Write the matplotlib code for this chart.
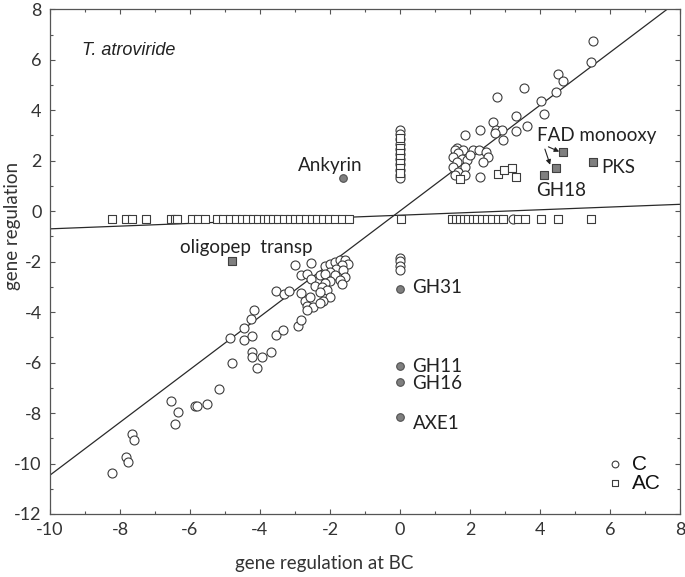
import matplotlib
matplotlib.use("Agg")
import matplotlib.pyplot as plt
from matplotlib.ticker import MultipleLocator

plt.rcParams["axes.unicode_minus"] = False

# ---------------- data ----------------
# C (circles)
c_x = [-8.22, -7.83, -7.78, -7.65, -7.59, -6.54, -6.34, -6.44, -5.86, -5.79, -5.52, -5.17,
       -4.17, -4.27, -4.46, -4.86, -4.46, -4.22, -4.81, -4.22, -4.22, -3.93, -3.69, -4.08,
       -3.54, -3.35, -2.92, -2.82, -3.54, -3.31, -3.16,
       -3.00, -2.53, -2.83, -2.65, -2.55, -2.29, -2.14, -2.00, -1.86, -1.71, -1.57, -1.48,
       -1.67, -1.83, -1.62, -2.00, -2.14, -1.86, -1.57, -1.71, -2.00, -1.67, -2.14, -2.43,
       -2.24, -2.10, -2.29, -2.00, -2.19, -2.83, -2.71, -2.57, -2.67, -2.48, -2.65, -2.29,
       0.0, 0.0, 0.0, 0.0,
       0.0, 0.0, 0.0, 0.0, 0.0, 0.0, 0.0, 0.0, 0.0, 0.0, 0.0,
       5.50, 5.46, 4.50, 4.65, 4.45, 4.02, 3.54, 2.76, 4.12, 3.31, 2.67, 3.64, 3.30, 2.74,
       2.90, 2.71, 2.95, 2.29, 1.86,
       1.62, 1.57, 1.81, 1.67, 1.52, 1.76, 1.62, 1.90, 2.09, 2.27, 2.45, 2.52, 2.38, 2.00,
       1.86, 1.52, 1.67, 1.57, 1.86, 2.29,
       3.22]
c_y = [-10.36, -9.75, -9.95, -8.84, -9.05, -7.53, -7.94, -8.43, -7.73, -7.73, -7.66, -7.04,
       -3.93, -4.26, -4.62, -5.03, -5.12, -4.95, -6.01, -5.59, -5.79, -5.79, -5.59, -6.21,
       -4.90, -4.69, -4.54, -4.33, -3.17, -3.30, -3.17,
       -2.12, -2.05, -2.54, -2.50, -2.70, -2.54, -2.19, -2.09, -2.02, -1.93, -1.95, -2.09,
       -2.15, -2.28, -2.35, -2.41, -2.48, -2.54, -2.61, -2.72, -2.77, -2.88, -2.85, -2.98,
       -3.00, -3.11, -3.20, -3.41, -3.54, -3.24, -3.54, -3.41, -3.74, -3.80, -3.93, -3.64,
       -1.86, -1.99, -2.19, -2.32,
       3.20, 3.05, 2.85, 2.65, 2.45, 2.25, 2.05, 1.85, 1.65, 1.45, 1.30,
       6.75, 5.91, 5.43, 5.15, 4.72, 4.38, 4.88, 4.53, 3.85, 3.76, 3.55, 3.36, 3.16, 3.21,
       3.21, 3.09, 2.81, 3.22, 3.01,
       2.52, 2.42, 2.44, 2.29, 2.15, 2.08, 1.95, 2.02, 2.44, 2.42, 2.35, 2.15, 1.95, 2.22,
       1.75, 1.75, 1.55, 1.42, 1.42, 1.36,
       -0.30]

# AC (squares)
ac_x = [-8.24, -7.83, -7.67, -7.26, -6.55, -6.43, -6.36, -5.95, -5.78, -5.57, -5.22, -5.05,
        -4.86, -4.69, -4.52, -4.36, -4.21, -4.05, -3.90, -3.76, -3.62, -3.48, -3.31, -3.14,
        -3.00, -2.86, -2.69, -2.52, -2.36, -2.19, -2.02, -1.86, -1.67, -1.47,
        0.03,
        1.48, 1.60, 1.71, 1.83, 1.95, 2.08, 2.19, 2.33, 2.48, 2.62, 2.79, 2.93, 3.38, 3.58,
        4.03, 4.51, 5.47,
        2.81, 2.96, 3.20, 3.30, 1.70,
        0.0, 0.0, 0.0, 0.0, 0.0, 0.0, 0.0]
ac_y = [-0.30] * 34 + [-0.30] + [-0.30] * 17 + \
       [1.49, 1.62, 1.71, 1.36, 1.29] + \
       [2.90, 2.50, 2.30, 2.10, 1.90, 1.70, 1.50]

# highlighted genes
hl_c_names = ["Ankyrin", "GH31", "GH11", "GH16", "AXE1"]
hl_c_x = [-1.62, 0.0, 0.0, 0.0, 0.0]
hl_c_y = [1.33, -3.07, -6.14, -6.75, -8.14]
hl_s_names = ["oligopep  transp", "FAD monooxy", "FAD monooxy", "GH18", "PKS"]
hl_s_x = [-4.80, 4.65, 4.46, 4.11, 5.50]
hl_s_y = [-1.99, 2.33, 1.70, 1.44, 1.93]

# regression lines (slope, intercept)
line_c = (1.047, 0.01)
line_ac = (0.054, -0.16)

# ---------------- plot ----------------
fig = plt.figure(figsize=(6.85, 5.77), dpi=100)
ax = fig.add_axes([50 / 685, 1 - 514 / 577, 630 / 685, (514 - 9.3) / 577])

FONT = ["Lato", "DejaVu Sans"]
gray_edge = "#3c3c3c"

ax.scatter(c_x, c_y, s=42, marker="o", facecolors="white", edgecolors=gray_edge,
           linewidths=0.8, zorder=3, label="C")
ax.scatter(ac_x, ac_y, s=36, marker="s", facecolors="white", edgecolors=gray_edge,
           linewidths=0.8, zorder=3, label="AC")
ax.scatter(hl_c_x, hl_c_y, s=30, marker="o", facecolors="#7f7f7f", edgecolors="#505050",
           linewidths=0.8, zorder=4)
ax.scatter(hl_s_x, hl_s_y, s=30, marker="s", facecolors="#7f7f7f", edgecolors="#404040",
           linewidths=0.8, zorder=4)

ax.axline((0, line_c[1]), slope=line_c[0], color="#2a2a2a", lw=0.9, zorder=2)
ax.axline((0, line_ac[1]), slope=line_ac[0], color="#2a2a2a", lw=0.9, zorder=2)

ax.set_xlim(-10, 8)
ax.set_ylim(-12, 8)
ax.xaxis.set_major_locator(MultipleLocator(2))
ax.xaxis.set_minor_locator(MultipleLocator(1))
ax.yaxis.set_major_locator(MultipleLocator(2))
ax.yaxis.set_minor_locator(MultipleLocator(1))
ax.tick_params(which="both", direction="in", top=True, right=True, colors="#555555",
               labelcolor="#333333")
ax.tick_params(which="major", length=3.5, width=0.8, labelsize=13, pad=6)
ax.tick_params(which="minor", length=2.5, width=0.8)
for lab in ax.get_xticklabels() + ax.get_yticklabels():
    lab.set_fontfamily(FONT)
for sp in ax.spines.values():
    sp.set_color("#555555")
    sp.set_linewidth(0.9)

ax.set_xlabel("gene regulation at BC", fontsize=13.5, family=FONT, color="#333333")
ax.xaxis.set_label_coords(0.435, -0.082)
ax.set_ylabel("gene regulation", fontsize=13.5, family=FONT, color="#333333")
ax.yaxis.set_label_coords(-0.046, 0.57)

tkw = dict(fontsize=13.5, family=FONT, color="#222222", zorder=5)
ax.text(-9.09, 6.38, "T. atroviride", fontsize=13, style="italic",
        family=["Liberation Sans", "DejaVu Sans"], color="#222222", va="center", ha="left")
ax.text(-2.0, 1.82, "Ankyrin", ha="center", va="center", **tkw)
ax.text(-4.39, -1.42, "oligopep  transp", ha="center", va="center", **tkw)
ax.text(0.34, -3.04, "GH31", ha="left", va="center", **tkw)
ax.text(3.91, 3.01, "FAD monooxy", ha="left", va="center", **tkw)
ax.text(5.76, 1.74, "PKS", ha="left", va="center", **tkw)
ax.text(3.88, 0.80, "GH18", ha="left", va="center", **tkw)
ax.text(0.34, -6.14, "GH11", ha="left", va="center", **tkw)
ax.text(0.34, -6.84, "GH16", ha="left", va="center", **tkw)
ax.text(0.38, -8.40, "AXE1", ha="left", va="center", **tkw)

ap = dict(arrowstyle="-|>", color="#222222", lw=0.8, mutation_scale=7,
          shrinkA=0, shrinkB=0)
ax.annotate("", xy=(4.55, 2.36), xytext=(4.24, 2.55), arrowprops=ap)
ax.annotate("", xy=(4.29, 1.84), xytext=(4.14, 2.46), arrowprops=ap)

leg = ax.legend(loc="center left", bbox_to_anchor=(0.881, 0.08), frameon=False,
                prop={"family": ["Liberation Sans", "DejaVu Sans"], "size": 15},
                handlelength=1.0, handletextpad=0.3, labelspacing=0.0,
                borderpad=0, borderaxespad=0, markerscale=0.75)
for t in leg.get_texts():
    t.set_color("#111111")

fig.savefig("out.png", dpi=100)
